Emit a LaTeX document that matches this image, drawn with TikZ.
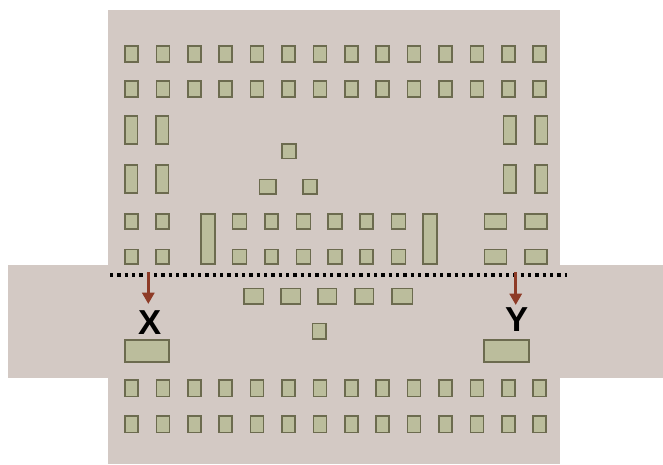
\documentclass[tikz,border=0pt]{standalone}
\usepackage{fontspec}
\setmainfont{Liberation Sans}
\usetikzlibrary{arrows.meta}
\definecolor{bgc}{HTML}{D3C9C4}
\definecolor{padfill}{HTML}{BBBD9C}
\definecolor{padline}{HTML}{6C6B4F}
\definecolor{arrc}{HTML}{8E3B27}
\tikzset{
  pad/.style={fill=padfill, draw=padline, line width=1.1pt},
  body/.style={fill=bgc, draw=none},
  cut/.style={draw=black, line width=2.5pt, dash pattern=on 2.5pt off 3pt},
  arr/.style={draw=arrc, line width=2.4pt, -{Triangle[width=9pt,length=8.5pt]}},
  lbl/.style={font=\bfseries\fontsize{26}{26}\selectfont, inner sep=0pt}
}
\begin{document}
\begin{tikzpicture}[x=0.75pt,y=-0.75pt]
\useasboundingbox (0,0) rectangle (663,464);
% body
\fill[body] (108,10) rectangle (560,464);
\fill[body] (8,265) rectangle (663,378);
% top two rows and bottom two rows
\foreach \i in {0,...,13}{
  \pgfmathsetmacro{\xa}{125+31.4*\i}
  \draw[pad] (\xa,46) rectangle ++(13,16);
  \draw[pad] (\xa,81) rectangle ++(13,16);
  \draw[pad] (\xa,380) rectangle ++(13,16.5);
  \draw[pad] (\xa,416) rectangle ++(13,16.5);
}
% tall side pads
\foreach \xa in {125,156,503.5,535}{
  \draw[pad] (\xa,116) rectangle ++(12.5,28);
  \draw[pad] (\xa,165) rectangle ++(12.5,28);
}
% left small pads rows 5,6
\foreach \xa in {125,156}{
  \draw[pad] (\xa,214) rectangle ++(13,15);
  \draw[pad] (\xa,249.5) rectangle ++(13,14.5);
}
% right wide pads rows 5,6
\foreach \xa in {484.5,525}{
  \draw[pad] (\xa,214) rectangle ++(22,15);
  \draw[pad] (\xa,249.5) rectangle ++(22,14.5);
}
% center tall pads
\draw[pad] (201,214) rectangle (215,264);
\draw[pad] (423,214) rectangle (437,264);
% center square rows
\foreach \xa/\w in {232.5/14,265/13,296.5/14,328/14,360/13,391.5/14}{
  \draw[pad] (\xa,214) rectangle ++(\w,15);
  \draw[pad] (\xa,249.5) rectangle ++(\w,14.5);
}
% triangle
\draw[pad] (282,144) rectangle (296,158.5);
\draw[pad] (259.5,179.5) rectangle (276,194);
\draw[pad] (303,179.5) rectangle (317,194);
% below the cut
\foreach \xa/\w in {244/19.5,281/19.5,318/18.5,355/18.5,392/20.5}{
  \draw[pad] (\xa,288.5) rectangle ++(\w,15.5);
}
\draw[pad] (312.5,323.5) rectangle (326,339);
% X and Y pads
\draw[pad] (125,340) rectangle (169,362);
\draw[pad] (484,340) rectangle (529,362);
% cut line
\coordinate (cutL) at (110,275);
\coordinate (cutR) at (567,275);
\draw[cut] (cutL) -- (cutR);
% labels
\node[lbl] (xl) at (150,322.5) {X};
\node[lbl] (yl) at (517,320) {Y};
% arrows
\coordinate (xs) at (148.3,272);
\coordinate (xe) at (148.3,304);
\coordinate (ys) at (515.7,272);
\coordinate (ye) at (515.7,305);
\draw[arr] (xs) -- (xe);
\draw[arr] (ys) -- (ye);
\end{tikzpicture}
\end{document}
